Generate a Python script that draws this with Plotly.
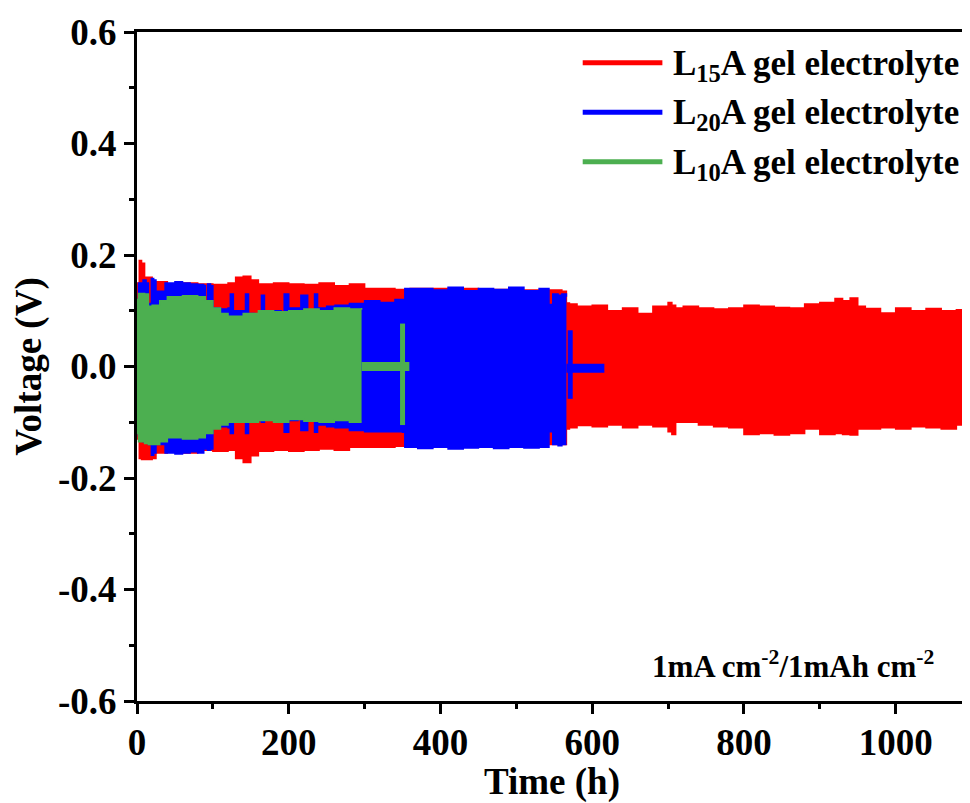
import plotly.graph_objects as go

# ---------------- data ----------------
# L15A gel electrolyte (red): envelope of the voltage oscillation
red_t = [0, 3, 6, 10, 20, 25, 40, 60, 80, 100, 120, 130, 140, 150, 160, 180, 200, 220, 240, 260,
         280, 300, 320, 340, 360, 400, 450, 500, 560, 566, 570, 580, 600, 620, 640, 660, 680, 700,
         705, 710, 720, 740, 760, 780, 800, 820, 840, 860, 880, 900, 920, 930, 940, 950, 960, 980,
         1000, 1020, 1040, 1060, 1080, 1094]
red_hi = [0.15, 0.19, 0.185, 0.16, 0.15, 0.152, 0.148, 0.15, 0.148, 0.147, 0.15, 0.16, 0.162, 0.155,
          0.148, 0.15, 0.148, 0.147, 0.15, 0.145, 0.148, 0.14, 0.14, 0.138, 0.14, 0.14, 0.138, 0.137,
          0.135, 0.114, 0.112, 0.108, 0.11, 0.1, 0.105, 0.095, 0.108, 0.115, 0.11, 0.105, 0.108, 0.105,
          0.103, 0.105, 0.11, 0.108, 0.106, 0.105, 0.112, 0.115, 0.122, 0.118, 0.123, 0.108, 0.104, 0.096,
          0.105, 0.1, 0.104, 0.1, 0.102, 0.11]
red_lo = [-0.13, -0.165, -0.167, -0.167, -0.165, -0.155, -0.153, -0.155, -0.15, -0.152, -0.15, -0.165,
          -0.172, -0.16, -0.152, -0.15, -0.152, -0.15, -0.148, -0.15, -0.145, -0.145, -0.145, -0.143,
          -0.142, -0.142, -0.141, -0.14, -0.14, -0.112, -0.11, -0.106, -0.108, -0.105, -0.11, -0.105,
          -0.108, -0.117, -0.122, -0.1, -0.1, -0.105, -0.108, -0.11, -0.122, -0.12, -0.123, -0.12,
          -0.112, -0.122, -0.12, -0.122, -0.123, -0.112, -0.112, -0.11, -0.112, -0.108, -0.11, -0.112,
          -0.105, -0.11]

# L20A gel electrolyte (blue)
blue_t = [0, 2, 8, 12, 15, 19, 22, 25, 30, 37, 50, 60, 70, 80, 88, 90, 93, 97, 100, 110, 120, 123,
          127, 140, 143, 147, 155, 164, 168, 180, 190, 194, 200, 212, 216, 225, 234, 238, 250, 261,
          280, 300, 320, 340, 350, 353, 370, 390, 410, 430, 450, 470, 490, 510, 530, 543, 548, 555,
          560, 566]
blue_hi = [0.12, 0.15, 0.155, 0.15, 0.113, 0.158, 0.155, 0.135, 0.135, 0.15, 0.152, 0.15, 0.148,
           0.147, 0.145, 0.11, 0.148, 0.145, 0.105, 0.103, 0.105, 0.13, 0.1, 0.1, 0.13, 0.095, 0.09,
           0.128, 0.095, 0.1, 0.098, 0.13, 0.105, 0.105, 0.128, 0.1, 0.13, 0.105, 0.108, 0.11, 0.113,
           0.118, 0.115, 0.12, 0.12, 0.14, 0.14, 0.137, 0.142, 0.136, 0.14, 0.138, 0.142, 0.136, 0.14,
           0.111, 0.13, 0.128, 0.13, 0.125]
blue_lo = [-0.12, -0.125, -0.135, -0.13, -0.14, -0.159, -0.155, -0.14, -0.14, -0.155, -0.157, -0.155,
           -0.153, -0.155, -0.14, -0.148, -0.15, -0.148, -0.11, -0.108, -0.11, -0.12, -0.1, -0.1, -0.12,
           -0.1, -0.097, -0.1, -0.095, -0.098, -0.1, -0.118, -0.097, -0.095, -0.115, -0.097, -0.118,
           -0.105, -0.108, -0.11, -0.115, -0.117, -0.117, -0.117, -0.118, -0.145, -0.147, -0.145, -0.148,
           -0.146, -0.145, -0.147, -0.145, -0.146, -0.145, -0.117, -0.14, -0.142, -0.14, -0.14]

# L10A gel electrolyte (green)
green_t = [0, 2, 10, 15, 20, 30, 40, 60, 80, 90, 100, 110, 120, 140, 160, 180, 200, 220, 240, 260,
           280, 296]
green_hi = [0.12, 0.131, 0.13, 0.108, 0.11, 0.118, 0.125, 0.127, 0.125, 0.118, 0.105, 0.095, 0.09,
            0.095, 0.1, 0.098, 0.1, 0.103, 0.1, 0.105, 0.103, 0.105]
green_lo = [-0.12, -0.135, -0.138, -0.14, -0.14, -0.135, -0.128, -0.13, -0.128, -0.12, -0.112, -0.105,
            -0.1, -0.1, -0.097, -0.1, -0.095, -0.098, -0.1, -0.097, -0.1, -0.1]

# short-circuit tails (near-zero voltage after failure)
green_tail_t = [296, 359]
green_tail_v = [0.0, 0.0]
green_spike_t = [350, 350]
green_spike_v = [0.077, -0.105]
blue_tail_t = [566, 616]
blue_tail_v = [-0.003, -0.003]
blue_spike_t = [571, 571]
blue_spike_v = [0.065, -0.058]

series_names = ["L<sub>15</sub>A gel electrolyte", "L<sub>20</sub>A gel electrolyte",
                "L<sub>10</sub>A gel electrolyte"]
series_colors = ["#FF0000", "#0000FF", "#4CAF50"]

y_tickvals = [-0.6, -0.4, -0.2, 0.0, 0.2, 0.4, 0.6]
y_ticktext = ["-0.6", "-0.4", "-0.2", "0.0", "0.2", "0.4", "0.6"]
x_tickvals = [0, 200, 400, 600, 800, 1000]
x_ticktext = ["0", "200", "400", "600", "800", "1000"]

FONT = "Liberation Serif"

fig = go.Figure()


def band(t, hi, lo, color, name):
    fig.add_trace(go.Scatter(x=t, y=lo, mode="lines", line=dict(color=color, width=1.5, shape="hv"),
                             name=name, showlegend=False, hoverinfo="skip"))
    fig.add_trace(go.Scatter(x=t, y=hi, mode="lines", fill="tonexty", fillcolor=color,
                             line=dict(color=color, width=1.5, shape="hv"),
                             name=name, showlegend=False, hoverinfo="skip"))


def tail(t, v, color, width):
    fig.add_trace(go.Scatter(x=t, y=v, mode="lines", showlegend=False, hoverinfo="skip",
                             line=dict(color=color, width=width)))


band(red_t, red_hi, red_lo, series_colors[0], series_names[0])
band(blue_t, blue_hi, blue_lo, series_colors[1], series_names[1])
tail(blue_tail_t, blue_tail_v, series_colors[1], 9)
tail(blue_spike_t, blue_spike_v, series_colors[1], 5)
band(green_t, green_hi, green_lo, series_colors[2], series_names[2])
tail(green_tail_t, green_tail_v, series_colors[2], 9)
tail(green_spike_t, green_spike_v, series_colors[2], 5)

# manual legend (long line samples as in the reference)
leg_y = [0.954, 0.880, 0.806]
for name, color, yy in zip(series_names, series_colors, leg_y):
    fig.add_shape(type="line", xref="paper", yref="paper", x0=0.537, x1=0.633, y0=yy, y1=yy,
                  line=dict(color=color, width=5))
    fig.add_annotation(xref="paper", yref="paper", x=0.643, y=yy - 0.004, text=name, showarrow=False,
                       xanchor="left", yanchor="middle",
                       font=dict(family=FONT, size=35, color="black", weight="bold"))

fig.add_annotation(xref="paper", yref="paper", x=0.79, y=0.055,
                   text="1mA cm<sup>-2</sup>/1mAh cm<sup>-2</sup>", showarrow=False,
                   xanchor="center", yanchor="middle",
                   font=dict(family=FONT, size=31, color="black", weight="bold"))

axis_common = dict(showline=True, linecolor="black", linewidth=3, mirror=True, ticks="outside",
                   ticklen=10, tickwidth=3, tickcolor="black", showgrid=False, zeroline=False,
                   automargin=False,
                   tickfont=dict(family=FONT, size=37, color="black", weight="bold"))

fig.update_xaxes(range=[0, 1094], tickmode="array", tickvals=x_tickvals, ticktext=x_ticktext,
                 ticklabelstandoff=-3,
                 minor=dict(tickmode="linear", tick0=0, dtick=100, ticks="outside", ticklen=5,
                            tickwidth=3, tickcolor="black"),
                 title=dict(text="Time (h)", standoff=10,
                            font=dict(family=FONT, size=37, color="black", weight="bold")),
                 **axis_common)
fig.update_yaxes(range=[-0.6, 0.6], tickmode="array", tickvals=y_tickvals, ticktext=y_ticktext,
                 minor=dict(tickmode="linear", tick0=0, dtick=0.1, ticks="outside", ticklen=5,
                            tickwidth=3, tickcolor="black"),
                 title=dict(text="Voltage (V)", standoff=6,
                            font=dict(family=FONT, size=37, color="black", weight="bold")),
                 **axis_common)

# the page adds an 8px body margin, so the figure is sized to fit the 970x803 window
fig.update_layout(width=962, height=795, margin=dict(l=129, r=3, t=24, b=102),
                  plot_bgcolor="white", paper_bgcolor="white", showlegend=False)

fig.write_html("out.html")
